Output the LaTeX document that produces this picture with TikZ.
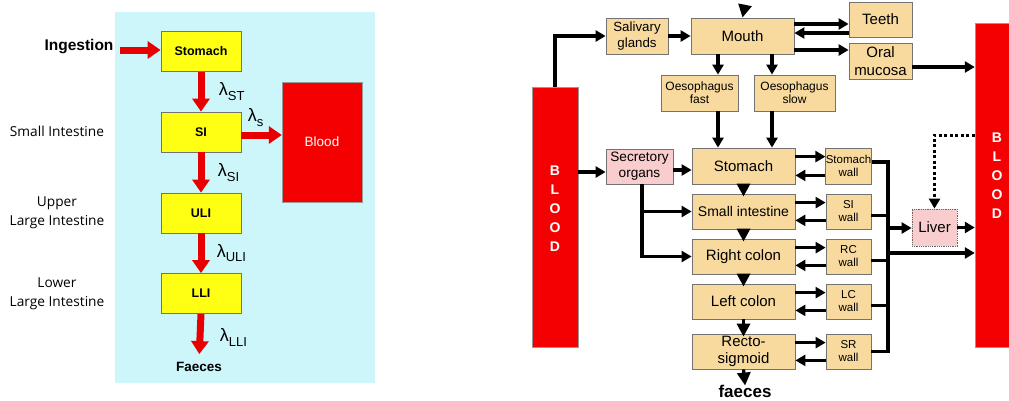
\documentclass[tikz,border=0pt]{standalone}
\usepackage{fontspec}
\setmainfont{Liberation Sans}
\newfontfamily\sidefont{Open Sans}
\usetikzlibrary{arrows.meta}
\definecolor{bgcyan}{RGB}{204,246,250}
\definecolor{boxyellow}{RGB}{255,255,20}
\definecolor{bloodred}{RGB}{245,0,0}
\definecolor{arrred}{RGB}{232,0,0}
\definecolor{boxtan}{RGB}{248,218,158}
\definecolor{boxpink}{RGB}{249,204,206}
\newcommand{\fsz}[2]{\fontsize{#1}{#2}\selectfont}
\newcommand{\lam}[1]{{\fsz{18}{20}λ}\raisebox{-4.5pt}{\fsz{13}{14}#1}}
\tikzset{
	ybox/.style={draw=black!55,line width=0.8pt,fill=boxyellow,inner sep=0pt,minimum width=80,minimum height=40,font=\fsz{12.5}{14}\bfseries},
	tbox/.style={draw=black!55,line width=0.8pt,fill=boxtan,inner sep=0pt,align=center},
	redarr/.style={draw=arrred,line width=7pt,-{Triangle[length=13pt,width=17pt]}},
	arr/.style={line width=3.2pt,-{Triangle[length=10pt,width=11pt]}},
	tri/.style={line width=3.2pt,-{Triangle[length=13pt,width=13pt]}},
	dotarr/.style={line width=3pt,dash pattern=on 3pt off 2.5pt,-{Triangle[length=10pt,width=11pt]}},
	bar/.style={draw=black!40,fill=bloodred,inner sep=0pt}
}
\begin{document}
\begin{tikzpicture}[x=1pt,y=-1pt]
	\useasboundingbox (0,0) rectangle (1009,400);
	%Left panel
	\fill[bgcyan] (115,12) rectangle (375,383);
	\node[ybox] (stomL) at (201,51.5) {Stomach};
	\node[ybox] (siL) at (201,132) {SI};
	\node[ybox] (uliL) at (201,213) {ULI};
	\node[ybox] (lliL) at (201,293.5) {LLI};
	\node[bar,minimum width=80,minimum height=120,text=white,font=\fsz{13.5}{15}] (bloodL) at (322,142) {Blood};
	\node[font=\fsz{15.5}{18}\bfseries] (ingest) at (79,47) {Ingestion};
	\node[font=\fsz{13.5}{16}\bfseries,inner sep=1pt] (faecL) at (199,367) {Faeces};
	%Side labels
	\node[font=\sidefont\fsz{13.7}{19},align=center] (lblSI) at (57,131) {Small Intestine};
	\node[font=\sidefont\fsz{13.7}{19},align=center] (lblULI) at (57,213) {Upper\\Large Intestine};
	\node[font=\sidefont\fsz{13.7}{19},align=center] (lblLLI) at (57,294) {Lower\\Large Intestine};
	%Red arrows
	\draw[redarr,shorten <=3pt] (ingest.east |- 0,50) -- (stomL.west |- 0,50);
	\draw[redarr] (stomL.south) -- (siL.north) node[midway,right=11pt,black]{\lam{ST}};
	\draw[redarr] (siL.east |- 0,135) -- (bloodL.west |- 0,135) node[midway,above=2pt,xshift=-6pt,black]{\lam{s}};
	\draw[redarr] (siL.south) -- (uliL.north) node[midway,right=10pt,black]{\lam{SI}};
	\draw[redarr] (uliL.south) -- (lliL.north) node[midway,right=9pt,black]{\lam{ULI}};
	\draw[redarr,shorten >=7pt] (lliL.south) -- (faecL.north) node[midway,right=13pt,black]{\lam{LLI}};
	%Right panel: blood bars
	\node[bar,minimum width=46,minimum height=260] (bloodA) at (555,217) {};
	\node[text=white,font=\fsz{14}{19}\bfseries,align=center] (bloodAtxt) at (555,209) {B\\L\\O\\O\\D};
	\node[bar,minimum width=44,minimum height=324] (bloodB) at (997,185) {};
	\node[text=white,font=\fsz{14}{19}\bfseries,align=center] (bloodBtxt) at (997,176) {B\\L\\O\\O\\D};
	%Upper boxes
	\node[tbox,minimum width=62,minimum height=36,font=\fsz{13.3}{16}] (saliv) at (637,36) {Salivary\\glands};
	\node[tbox,minimum width=103,minimum height=36,font=\fsz{15}{18}] (mouth) at (742.5,36) {Mouth};
	\node[tbox,minimum width=63,minimum height=35,font=\fsz{15}{18}] (teeth) at (880.5,19.5) {Teeth};
	\node[tbox,minimum width=63,minimum height=36,font=\fsz{15}{18}] (oral) at (880.5,61) {Oral\\mucosa};
	\node[tbox,minimum width=77,minimum height=36,font=\fsz{12}{13}] (oesF) at (699.5,93) {Oesophagus\\fast};
	\node[tbox,minimum width=81,minimum height=36,font=\fsz{12}{13}] (oesS) at (794.5,93) {Oesophagus\\slow};
	\node[tbox,fill=boxpink,minimum width=67,minimum height=35,font=\fsz{13.6}{16}] (secr) at (639.5,166.5) {Secretory\\organs};
	%Gut column
	\node[tbox,minimum width=103,minimum height=36,font=\fsz{15}{18}] (stomR) at (743.5,166) {Stomach};
	\node[tbox,minimum width=103,minimum height=35,font=\fsz{14}{17}] (sInt) at (743.5,211.5) {Small intestine};
	\node[tbox,minimum width=103,minimum height=35,font=\fsz{15}{18}] (rColon) at (743.5,256.5) {Right colon};
	\node[tbox,minimum width=103,minimum height=35,font=\fsz{15}{18}] (lColon) at (743.5,301.5) {Left colon};
	\node[tbox,minimum width=103,minimum height=35,font=\fsz{15}{17}] (recto) at (743.5,351.5) {Recto-\\sigmoid};
	\node[font=\fsz{17}{19}\bfseries,inner sep=0pt] (faecR) at (745,391) {faeces};
	%Walls
	\node[tbox,minimum width=45,minimum height=36,font=\fsz{11.5}{13}] (stW) at (848.5,166) {Stomach\\wall};
	\node[tbox,minimum width=45,minimum height=35,font=\fsz{11.5}{13}] (siW) at (848.5,211.5) {SI\\wall};
	\node[tbox,minimum width=45,minimum height=35,font=\fsz{11.5}{13}] (rcW) at (848.5,256.5) {RC\\wall};
	\node[tbox,minimum width=45,minimum height=35,font=\fsz{11.5}{13}] (lcW) at (848.5,301.5) {LC\\wall};
	\node[tbox,minimum width=45,minimum height=35,font=\fsz{11.5}{13}] (srW) at (848.5,351.5) {SR\\wall};
	\node[tbox,fill=boxpink,draw=black!60,densely dotted,minimum width=45,minimum height=37,font=\fsz{15}{18}] (liver) at (934.5,227.5) {Liver};
	%Black arrows
	\coordinate (intake) at (745,5);
	\draw[tri] (intake) -- (mouth.north);
	\draw[arr] (bloodA.north) |- (saliv.west);
	\draw[arr] (saliv.east) -- (mouth.west);
	\draw[arr] (mouth.east |- 0,24) -- (teeth.west |- 0,24);
	\draw[arr] (teeth.west |- 0,33) -- (mouth.east |- 0,33);
	\draw[arr] (mouth.east |- 0,50) -- (oral.west |- 0,50);
	\draw[arr] (oral.east |- 0,67) -- (bloodB.west |- 0,67);
	\draw[arr] (mouth.south -| 718,0) -- (oesF.north -| 718,0);
	\draw[arr] (mouth.south -| 772,0) -- (oesS.north -| 772,0);
	\draw[arr] (oesF.south -| 718,0) -- (stomR.north -| 718,0);
	\draw[arr] (oesS.south -| 772,0) -- (stomR.north -| 772,0);
	\draw[arr] (bloodA.east |- 0,172) -- (secr.west |- 0,172);
	\draw[arr] (secr.east |- 0,170) -- (stomR.west |- 0,170);
	\draw[arr] (secr.south -| 642,0) |- (sInt.west);
	\draw[arr] (secr.south -| 642,0) |- (rColon.west);
	\foreach \a/\b in {stomR/sInt,sInt/rColon,rColon/lColon,lColon/recto}
		\draw[tri,shorten >=-3pt] (\a.south) -- (\b.north);
	\draw[tri,shorten >=-1pt] (recto.south) -- (faecR.north);
	%Organ and wall
	\foreach \o/\w in {stomR/stW,sInt/siW,rColon/rcW,lColon/lcW,recto/srW}{
		\draw[arr] ([yshift=-9pt]\o.north east) -- ([yshift=-9pt]\w.north west);
		\draw[arr] ([yshift=9pt]\w.south west) -- ([yshift=9pt]\o.south east);
	}
	%Collector to liver and blood
	\draw[line width=3.2pt] (stW.east |- 0,162) -| (srW.east -| 888,0) -- (srW.east);
	\foreach \w in {siW,rcW,lcW}
		\draw[line width=3.2pt] ([yshift=-4pt]\w.east) -- ([yshift=-4pt]\w.east -| 888,0);
	\coordinate (jL) at (888,228);
	\coordinate (jB) at (888,253);
	\draw[arr] (jL) -- (liver.west |- jL);
	\draw[arr] (jB) -- (bloodB.west |- jB);
	\draw[arr] (liver.east) -- (bloodB.west |- liver.east);
	\draw[dotarr] (bloodB.west |- 0,135) -| (liver.north);
\end{tikzpicture}
\end{document}
